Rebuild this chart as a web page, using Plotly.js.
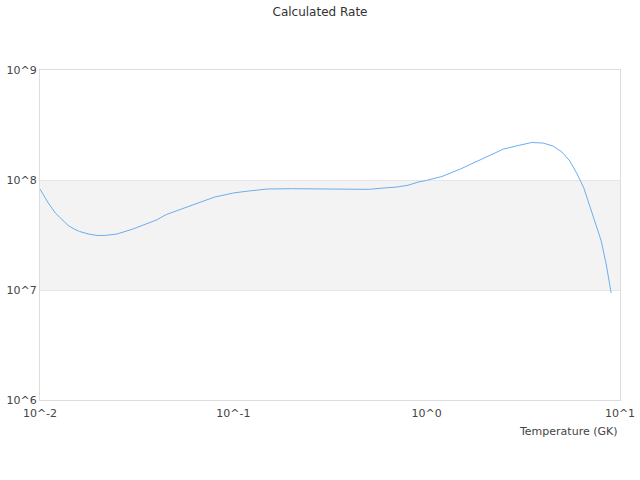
<!DOCTYPE html>
<html>
<head>
<meta charset="utf-8">
<script src="https://cdn.plot.ly/plotly-3.0.1.min.js"></script>
<style>
  body { margin: 0; }
  #chart { width: 640px; height: 480px; }
</style>
</head>
<body>
<div id="chart"></div>
<script>
// Nhiệt độ (GK) và tốc độ phản ứng
var temperature = [0.01, 0.011, 0.012, 0.013, 0.014, 0.015, 0.016, 0.018, 0.02, 0.022,
    0.025, 0.03, 0.035, 0.04, 0.045, 0.05, 0.06, 0.07, 0.08, 0.09,
    0.1, 0.12, 0.15, 0.2, 0.25, 0.3, 0.4, 0.5, 0.6, 0.7,
    0.8, 0.9, 1.0, 1.2, 1.5, 1.8, 2.0, 2.5, 3.0, 3.5,
    4.0, 4.5, 5.0, 5.5, 6.0, 6.5, 7.0, 7.5, 8.0, 8.5, 9.0];
var logRate = [7.918, 7.795, 7.700, 7.636, 7.586, 7.555, 7.532, 7.507, 7.495, 7.497,
    7.509, 7.552, 7.595, 7.636, 7.686, 7.715, 7.768, 7.814, 7.845, 7.864,
    7.882, 7.900, 7.918, 7.921, 7.921, 7.916, 7.915, 7.915, 7.927, 7.936,
    7.952, 7.980, 7.997, 8.032, 8.101, 8.165, 8.203, 8.282, 8.315, 8.341,
    8.336, 8.309, 8.255, 8.173, 8.055, 7.927, 7.755, 7.591, 7.445, 7.227, 6.973];
var rate = logRate.map(function(v) { return Math.pow(10, v); });

var xTickVals = [0.01, 0.1, 1, 10];
var xTickText = ["10^-2", "10^-1", "10^0", "10^1"];
var yTickVals = [1e6, 1e7, 1e8, 1e9];
var yTickText = ["10^6", "10^7", "10^8", "10^9"];

var data = [{
    x: temperature,
    y: rate,
    type: "scatter",
    mode: "lines",
    line: { color: "#6aaef0", width: 1 },
    hoverinfo: "x+y"
}];

var layout = {
    width: 640,
    height: 480,
    margin: { t: 70, r: 20, l: 40, b: 80 },
    paper_bgcolor: "#ffffff",
    plot_bgcolor: "#ffffff",
    font: { color: "#444", family: "DejaVu Sans", size: 11 },
    showlegend: false,
    title: {
        text: "Calculated Rate",
        font: { size: 12, color: "#333" },
        x: 0.5,
        xanchor: "center",
        y: 0.975,
        yanchor: "middle"
    },
    xaxis: {
        type: "log",
        range: [-2, 1],
        tickvals: xTickVals,
        ticktext: xTickText,
        showgrid: false,
        zeroline: false,
        showline: true,
        mirror: true,
        linecolor: "#dddddd",
        linewidth: 1,
        ticks: "",
        ticklabelstandoff: 3
    },
    yaxis: {
        type: "log",
        range: [6, 9],
        tickvals: yTickVals,
        ticktext: yTickText,
        showgrid: true,
        gridcolor: "#e6e6e6",
        zeroline: false,
        showline: true,
        mirror: true,
        linecolor: "#dddddd",
        linewidth: 1,
        ticks: ""
    },
    shapes: [{
        type: "rect",
        xref: "paper",
        yref: "y",
        x0: 0, x1: 1,
        y0: 1e7, y1: 1e8,
        fillcolor: "#f3f3f3",
        line: { width: 0 },
        layer: "below"
    }],
    annotations: [{
        xref: "paper",
        yref: "paper",
        x: 1,
        y: 0,
        yshift: -31,
        xanchor: "right",
        yanchor: "middle",
        text: "Temperature (GK)",
        showarrow: false,
        font: { size: 11, color: "#444" }
    }]
};

Plotly.newPlot("chart", data, layout, { displayModeBar: false });
</script>
</body>
</html>
